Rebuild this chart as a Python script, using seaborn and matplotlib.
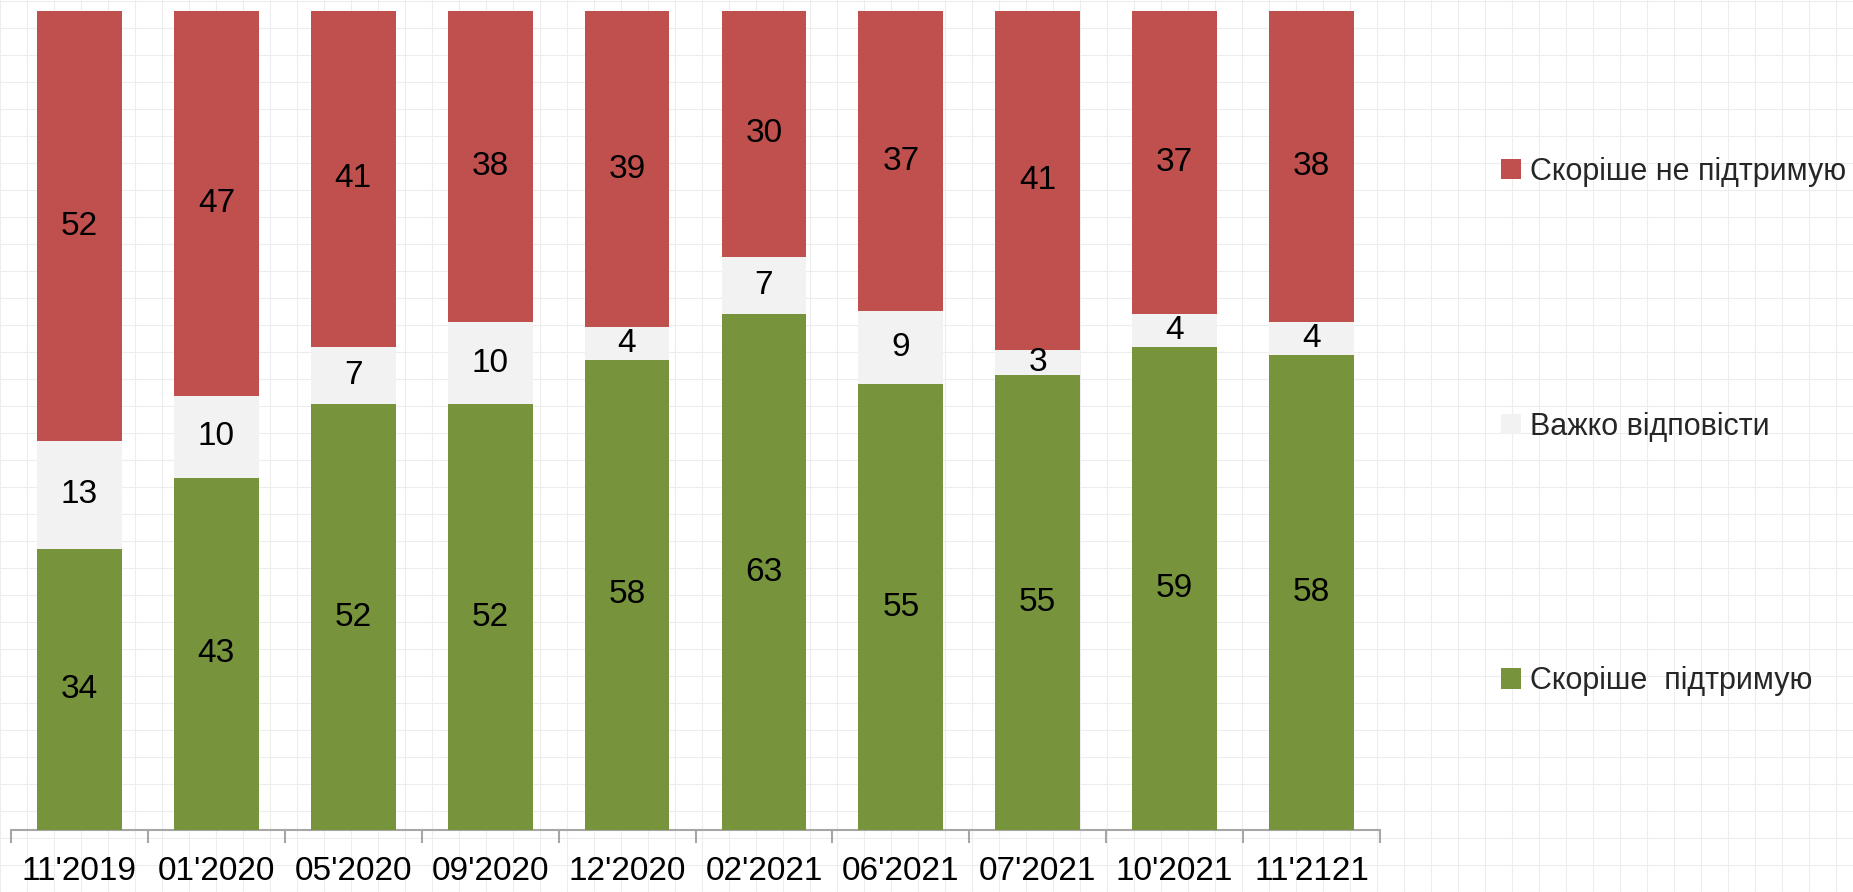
import matplotlib
matplotlib.use("Agg")
import matplotlib.pyplot as plt
import seaborn as sns
import numpy as np
import pandas as pd
from matplotlib.patches import Patch

categories = ["11'2019", "01'2020", "05'2020", "09'2020", "12'2020",
              "02'2021", "06'2021", "07'2021", "10'2021", "11'2121"]
support = [34, 43, 52, 52, 58, 63, 55, 55, 59, 58]
hard = [13, 10, 7, 10, 4, 7, 9, 3, 4, 4]
oppose = [52, 47, 41, 38, 39, 30, 37, 41, 37, 38]
series_names = ["Скоріше не підтримую", "Важко відповісти", "Скоріше  підтримую"]
colors = {"oppose": "#C0504D", "hard": "#F2F2F2", "support": "#77933C"}

sns.set_theme(style="white")
plt.rcParams['font.family'] = ['Liberation Sans', 'DejaVu Sans']

W, H = 1853, 892
fig = plt.figure(figsize=(W / 100, H / 100), dpi=100)

# faint paper-like background grid
bg = fig.add_axes([0, 0, 1, 1], zorder=0)
bg.set_xlim(0, W)
bg.set_ylim(0, H)
bg.set_xticks(np.arange(0, W, 27))
bg.set_yticks(np.arange(0, H, 27))
bg.grid(True, color="#ededed", linewidth=0.8)
bg.tick_params(length=0, labelbottom=False, labelleft=False)
for s in bg.spines.values():
    s.set_visible(False)

x0, x1 = 11, 1380
y_bot, y_top = 830, 11
ax = fig.add_axes([x0 / W, (H - y_bot) / H, (x1 - x0) / W, (y_bot - y_top) / H], zorder=1)
ax.patch.set_alpha(0)

df = pd.DataFrame({"cat": categories, "support": support, "hard": hard, "oppose": oppose})
tot = df["support"] + df["hard"] + df["oppose"]
df["p_support"] = df["support"] / tot * 100
df["p_hard"] = df["hard"] / tot * 100
df["p_oppose"] = df["oppose"] / tot * 100
df["c_total"] = df["p_support"] + df["p_hard"] + df["p_oppose"]
df["c_mid"] = df["p_support"] + df["p_hard"]

bw = 0.62
sns.barplot(data=df, x="cat", y="c_total", color=colors["oppose"], saturation=1, width=bw, ax=ax, zorder=2)
sns.barplot(data=df, x="cat", y="c_mid", color=colors["hard"], saturation=1, width=bw, ax=ax, zorder=3)
sns.barplot(data=df, x="cat", y="p_support", color=colors["support"], saturation=1, width=bw, ax=ax, zorder=4)
for p in ax.patches:
    p.set_linewidth(0)

fs = 24
for i, r in df.iterrows():
    ax.text(i, r["p_support"] / 2, f"{r['support']}", ha="center", va="center", fontsize=fs, color="black", zorder=5)
    ax.text(i, r["p_support"] + r["p_hard"] / 2, f"{r['hard']}", ha="center", va="center", fontsize=fs, color="black", zorder=5)
    ax.text(i, r["c_mid"] + r["p_oppose"] / 2, f"{r['oppose']}", ha="center", va="center", fontsize=fs, color="black", zorder=5)

ax.set_xlim(-0.5, len(categories) - 0.5)
ax.set_ylim(0, 100)
ax.set_xlabel("")
ax.set_ylabel("")
ax.set_yticks([])
for s in ["top", "right", "left"]:
    ax.spines[s].set_visible(False)
ax.spines["bottom"].set_color("#A6A6A6")
ax.spines["bottom"].set_linewidth(1.5)
ax.set_xticks(range(len(categories)))
ax.set_xticklabels(categories, fontsize=24)
ax.set_xticks(np.arange(-0.5, len(categories), 1), minor=True)
ax.tick_params(axis="x", which="major", bottom=True, length=0, pad=19, colors="black")
ax.tick_params(axis="x", which="minor", bottom=True, length=9, width=1.5, color="#A6A6A6", direction="out")

handles = [Patch(facecolor=colors["oppose"], edgecolor="none"),
           Patch(facecolor=colors["hard"], edgecolor="none"),
           Patch(facecolor=colors["support"], edgecolor="none")]
fig.legend(handles, series_names, loc="upper left",
           bbox_to_anchor=(1501 / W, 1 - 157 / H), frameon=False, fontsize=22,
           handlelength=0.65, handleheight=0.65, handletextpad=0.3,
           labelspacing=7.35, borderpad=0, borderaxespad=0)

fig.savefig("out.png", dpi=100)
